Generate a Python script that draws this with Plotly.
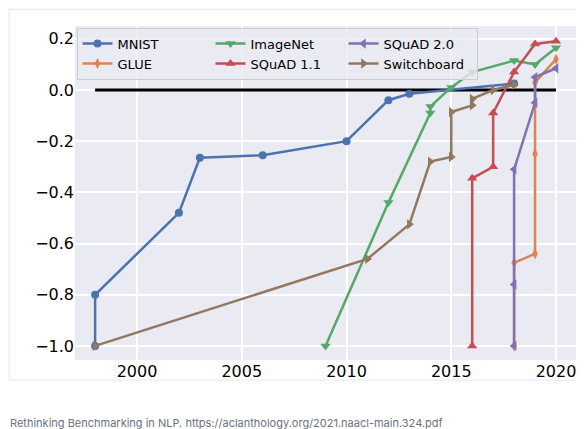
import plotly.graph_objects as go

mnist_x = [1998, 1998, 2002, 2003, 2006, 2010, 2012, 2013, 2018]
mnist_y = [-1.0, -0.80, -0.48, -0.265, -0.255, -0.20, -0.04, -0.015, 0.025]
glue_x = [2018, 2018, 2019, 2019, 2019, 2020]
glue_y = [-1.0, -0.675, -0.64, -0.25, 0.03, 0.12]
imagenet_x = [2009, 2012, 2014, 2014, 2015, 2016, 2018, 2019, 2020]
imagenet_y = [-1.0, -0.44, -0.09, -0.065, 0.01, 0.07, 0.115, 0.10, 0.165]
squad1_x = [2016, 2016, 2017, 2017, 2018, 2019, 2020]
squad1_y = [-1.0, -0.345, -0.30, -0.09, 0.07, 0.18, 0.19]
squad2_x = [2018, 2018, 2018, 2019, 2019, 2020]
squad2_y = [-1.0, -0.76, -0.31, -0.05, 0.05, 0.085]
swb_x = [1998, 2011, 2013, 2014, 2015, 2015, 2016, 2016, 2017, 2018]
swb_y = [-1.0, -0.66, -0.525, -0.28, -0.262, -0.086, -0.06, -0.035, 0.0, 0.02]

series = [
    ("MNIST", mnist_x, mnist_y, "#4C72B0", "circle", 1, 8),
    ("GLUE", glue_x, glue_y, "#DD8452", "diamond-tall", 4, 8),
    ("ImageNet", imagenet_x, imagenet_y, "#55A868", "triangle-down", 2, 9),
    ("SQuAD 1.1", squad1_x, squad1_y, "#C44E52", "triangle-up", 5, 9),
    ("SQuAD 2.0", squad2_x, squad2_y, "#8172B3", "triangle-left", 3, 9),
    ("Switchboard", swb_x, swb_y, "#937860", "triangle-right", 6, 9),
]

fig = go.Figure()
fig.add_trace(go.Scatter(x=[1998, 2020], y=[0, 0], mode="lines",
                         line=dict(color="black", width=3), showlegend=False))
for name, x, y, c, sym, rank, ms in series:
    fig.add_trace(go.Scatter(x=x, y=y, name=name, mode="lines+markers",
                             line=dict(color=c, width=2.5),
                             marker=dict(symbol=sym, size=ms, color=c),
                             legendrank=rank))

fig.update_layout(
    width=584, height=429,
    margin=dict(l=67, r=14, t=18, b=77, autoexpand=False),
    paper_bgcolor="white", plot_bgcolor="#EAEAF2",
    font=dict(family="DejaVu Sans", color="black", size=16),
    xaxis=dict(range=[1997.04, 2021.05], tickvals=[2000, 2005, 2010, 2015, 2020],
               gridcolor="white", gridwidth=1.5, zeroline=False, showline=False, ticks="",
               automargin=False),
    yaxis=dict(range=[-1.055, 0.25], tickvals=[-1.0, -0.8, -0.6, -0.4, -0.2, 0.0, 0.2],
               tickformat=".1f", gridcolor="white", gridwidth=1.5, zeroline=False, ticks="",
               automargin=False),
    legend=dict(orientation="h", x=0.003, y=0.995, xanchor="left", yanchor="top",
                entrywidth=88, bgcolor="rgba(234,234,242,0.8)", bordercolor="#CCCCCC",
                borderwidth=1, font=dict(size=13), tracegroupgap=0),
)
fig.add_annotation(text="Rethinking Benchmarking in NLP. https://aclanthology.org/2021.naacl-main.324.pdf",
                   xref="paper", yref="paper", x=-0.133, y=-0.189, xanchor="left", yanchor="middle",
                   showarrow=False, font=dict(size=11, color="#6b7280", family="Inter"))
fig.add_shape(type="rect", xref="paper", yref="paper", x0=-0.131, x1=1.025, y0=-0.06, y1=1.05,
              line=dict(color="#E5E7EB", width=1), fillcolor="rgba(0,0,0,0)", layer="below")
fig.write_html("out.html")
